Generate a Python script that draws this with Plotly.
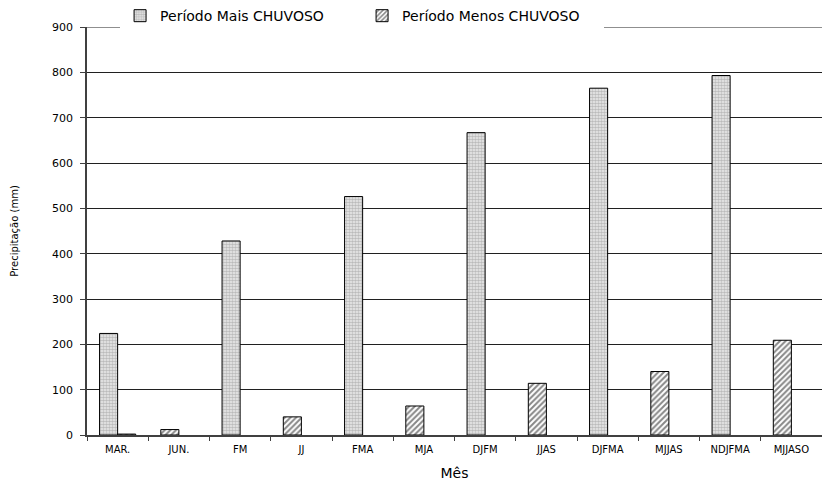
import plotly.graph_objects as go

# Precipitação acumulada por período (mm)
meses = ["MAR.", "JUN.", "FM", "JJ", "FMA", "MJA", "DJFM", "JJAS",
         "DJFMA", "MJJAS", "NDJFMA", "MJJASO"]
mais_chuvoso = [224, None, 428, None, 526, None, 667, None, 765, None, 793, None]
menos_chuvoso = [2, 12, None, 40, None, 64, None, 114, None, 140, None, 209]
y_max = 900

# slot positions inside each category (left slot / right slot)
largura = 0.295
desloc_mais = [-largura] * len(meses)
desloc_menos = [0.0] + [-largura] * (len(meses) - 1)

fonte = "DejaVu Sans, Arial, sans-serif"

fig = go.Figure()
fig.add_trace(go.Bar(
    x=meses, y=mais_chuvoso, name="Período Mais CHUVOSO",
    width=largura, offset=desloc_mais,
    marker=dict(color="#d9d9d9",
                line=dict(color="black", width=1),
                pattern=dict(shape=".", size=3, solidity=0.55,
                             fgcolor="#8a8a8a", bgcolor="#ececec")),
))
fig.add_trace(go.Bar(
    x=meses, y=menos_chuvoso, name="Período Menos CHUVOSO",
    width=largura, offset=desloc_menos,
    marker=dict(color="white",
                line=dict(color="black", width=1),
                pattern=dict(shape="/", size=4, solidity=0.5,
                             fgcolor="#101010", bgcolor="white")),
))

# top gridline at the upper end of the value axis
fig.add_shape(type="line", xref="paper", yref="y", x0=0, x1=1,
              y0=y_max, y1=y_max, layer="below",
              line=dict(color="#202020", width=1))

fig.update_layout(
    width=822, height=491,
    margin=dict(l=87, r=0, t=27, b=56),
    paper_bgcolor="white", plot_bgcolor="white",
    barmode="overlay",
    font=dict(family=fonte, color="black"),
    legend=dict(orientation="h", x=0.045, y=1.066, xanchor="left", yanchor="top",
                bgcolor="white", font=dict(size=14),
                entrywidth=197, entrywidthmode="pixels",
                itemwidth=30, tracegroupgap=0),
    xaxis=dict(
        type="category", showgrid=False, showline=True, linecolor="#404040",
        linewidth=1.5, ticks="outside", tickson="boundaries", ticklen=4,
        tickcolor="#404040", tickfont=dict(size=10), ticklabelstandoff=4,
        range=[-0.5, 11.5],
        title=dict(text="Mês", font=dict(size=14), standoff=14),
    ),
    yaxis=dict(
        range=[0, y_max], dtick=100, showgrid=True, gridcolor="#202020",
        gridwidth=1, showline=True, linecolor="#404040", linewidth=1.5,
        ticks="outside", ticklen=5, tickcolor="#404040",
        tickfont=dict(size=11), ticklabelstandoff=5, zeroline=False,
        title=dict(text="Precipitação (mm)", font=dict(size=10), standoff=32),
    ),
)

fig.write_html("out.html")
